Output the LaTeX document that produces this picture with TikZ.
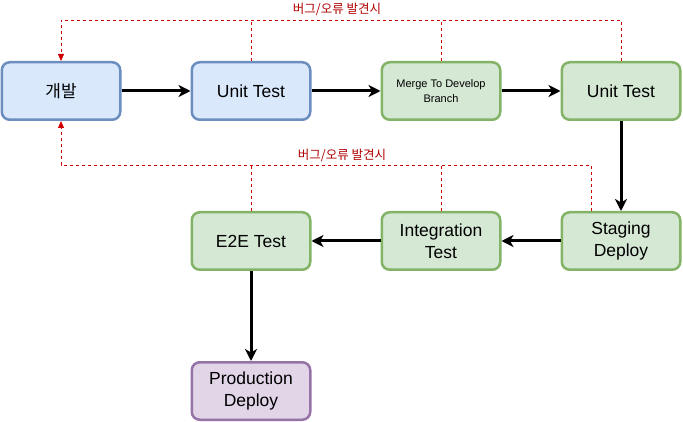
\documentclass[tikz,border=0pt]{standalone}
\usepackage{fontspec}
\setmainfont{Liberation Sans}
\newfontfamily\kofont{Noto Sans CJK KR}
\usetikzlibrary{arrows.meta,positioning}
\usepackage{xcolor}
\definecolor{devfill}{HTML}{DAE8FC}
\definecolor{devline}{HTML}{6C8EBF}
\definecolor{testfill}{HTML}{D5E8D4}
\definecolor{testline}{HTML}{82B366}
\definecolor{prodfill}{HTML}{E1D5E7}
\definecolor{prodline}{HTML}{9673A6}
\definecolor{bugline}{HTML}{D00000}
\definecolor{bugtext}{HTML}{B00000}

\begin{document}
\begin{tikzpicture}[x=1pt,y=-1pt,font=\fontsize{17.5}{22.5}\selectfont,
  stagebox/.style={draw, line width=2.5pt, rounded corners=8pt, minimum width=118.5pt,
    minimum height=57.5pt, inner sep=0pt, align=center},
  devbox/.style={stagebox, fill=devfill, draw=devline},
  testbox/.style={stagebox, fill=testfill, draw=testline},
  prodbox/.style={stagebox, fill=prodfill, draw=prodline},
  flow/.style={line width=3pt, -{Stealth[length=12pt,width=12pt,inset=3.5pt]}},
  bugpath/.style={bugline, line width=0.8pt, dash pattern=on 3pt off 3pt},
  bugarrow/.style={bugpath, -{Triangle[length=7pt,width=6pt]}},
  buglabel/.style={text=bugtext, font=\kofont\fontsize{12.5}{14}\selectfont}]
  \useasboundingbox (0,0) rectangle (683,422);

  % first row
  \node[devbox, font=\kofont\fontsize{17}{20}\selectfont] (dev) at (61,91) {개발};
  \node[devbox] (unit1) at (251,91) {Unit Test};
  \node[testbox, font=\fontsize{11}{14.5}\selectfont] (merge) at (441,91) {Merge To Develop\\Branch};
  \node[testbox] (unit2) at (621,91) {Unit Test};

  % second row
  \node[testbox] (staging) at (621,241) {Staging\\Deploy};
  \node[testbox] (integ) at (441,241) {Integration\\Test};
  \node[testbox] (e2e) at (251,241) {E2E Test};
  \node[prodbox] (prod) at (251,391) {Production\\Deploy};

  \draw[flow] (dev) -- (unit1);
  \draw[flow] (unit1) -- (merge);
  \draw[flow] (merge) -- (unit2);
  \draw[flow] (unit2) -- (staging);
  \draw[flow] (staging) -- (integ);
  \draw[flow] (integ) -- (e2e);
  \draw[flow] (e2e) -- (prod);

  % feedback loops
  \coordinate (topback) at (61,20);
  \coordinate (midback) at (61,165);
  \draw[bugarrow] (unit2.north) |- (topback) -- (dev.north);
  \draw[bugpath] (unit1.north) -- (unit1.north |- topback);
  \draw[bugpath] (merge.north) -- (merge.north |- topback);
  \node[buglabel] (toplabel) at (337,9) {버그/오류 발견시};

  \draw[bugarrow] ([xshift=-30pt]staging.north) |- (midback) -- (dev.south);
  \draw[bugpath] (e2e.north) -- (e2e.north |- midback);
  \draw[bugpath] (integ.north) -- (integ.north |- midback);
  \node[buglabel] (midlabel) at (342,155) {버그/오류 발견시};
\end{tikzpicture}
\end{document}
